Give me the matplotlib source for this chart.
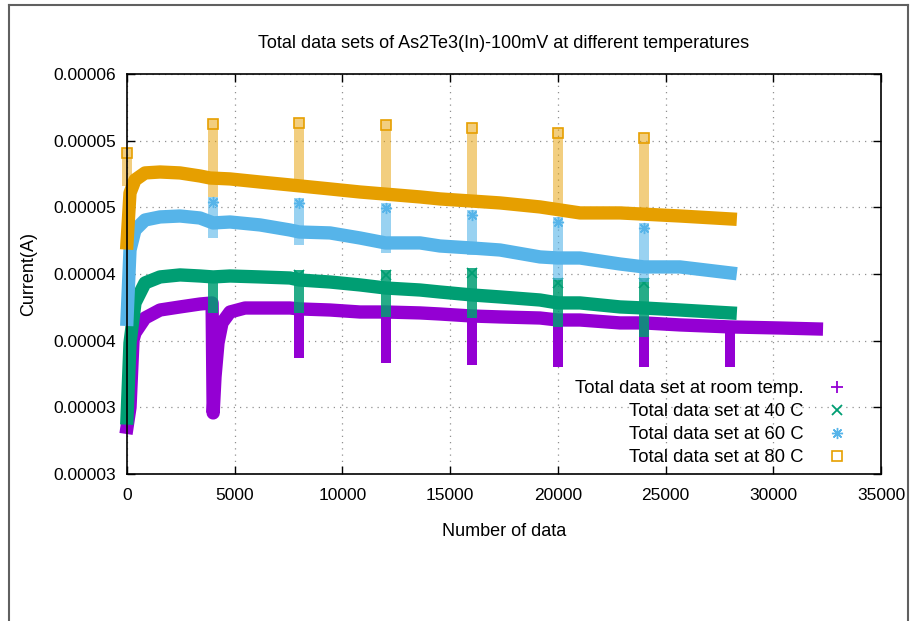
import matplotlib.pyplot as plt
import numpy as np
from matplotlib.lines import Line2D

plt.rcParams['font.family'] = ['Liberation Sans', 'DejaVu Sans']

# data index and current (units of 1e-5 A), read along the centre of each band
n_room = [0, 140, 280, 370, 836, 1532, 2460, 3389, 3950, 4000, 4085, 4224, 4410, 4781, 5478,
          6174, 7566, 8000, 9423, 10816, 12000, 13601, 14529, 16000, 17315, 19171, 20000,
          21028, 22885, 24000, 25670, 28000, 30312, 32000]
i_room = [2.85, 3.00, 3.505, 3.558, 3.67, 3.73, 3.753, 3.775, 3.783, 2.958, 3.228, 3.483, 3.633,
          3.715, 3.745, 3.745, 3.745, 3.738, 3.73, 3.715, 3.715, 3.708, 3.70, 3.685, 3.678, 3.67,
          3.655, 3.655, 3.633, 3.633, 3.618, 3.603, 3.595, 3.588]

n_40 = [0, 139, 371, 836, 1532, 2460, 3389, 4000, 4781, 6174, 7566, 8000, 9423, 10816, 12000,
        13601, 14529, 16000, 17315, 19171, 20000, 21028, 22885, 24000, 25670, 28000]
i_40 = [2.92, 3.483, 3.783, 3.933, 3.978, 3.993, 3.985, 3.978, 3.985, 3.978, 3.97, 3.955, 3.94,
        3.918, 3.895, 3.88, 3.865, 3.843, 3.828, 3.805, 3.783, 3.783, 3.753, 3.745, 3.73, 3.708]

n_60 = [0, 139, 371, 836, 1532, 2460, 3389, 4000, 4781, 6174, 7566, 8000, 9423, 10816, 12000,
        13601, 14529, 16000, 17315, 19171, 20000, 21028, 22885, 24000, 25670, 28000]
i_60 = [3.66, 4.18, 4.33, 4.405, 4.428, 4.435, 4.42, 4.383, 4.39, 4.368, 4.33, 4.315, 4.308,
        4.27, 4.233, 4.233, 4.21, 4.195, 4.18, 4.128, 4.12, 4.12, 4.075, 4.053, 4.053, 4.008]

n_80 = [0, 139, 371, 836, 1532, 2460, 3389, 3853, 4781, 6174, 7566, 9423, 10816, 13601, 14529,
        17315, 19171, 21028, 22885, 25670, 28000]
i_80 = [4.233, 4.608, 4.705, 4.758, 4.765, 4.758, 4.735, 4.72, 4.713, 4.69, 4.668, 4.638, 4.615,
        4.578, 4.563, 4.533, 4.503, 4.458, 4.458, 4.435, 4.413]

# spikes at the start of each 4000-point run (low / high ends)
spk_room_n = [8000, 12000, 16000, 20000, 24000, 28000]
spk_room_lo = [3.408, 3.37, 3.355, 3.34, 3.34, 3.34]
spk_room_hi = [3.738, 3.715, 3.685, 3.655, 3.633, 3.603]

spk_40_n = [4000, 8000, 12000, 16000, 20000, 24000]
spk_40_lo = [3.745, 3.745, 3.715, 3.708, 3.64, 3.565]
spk_40_hi = [3.978, 3.993, 3.993, 4.008, 3.933, 3.933]

spk_60_n = [4000, 8000, 12000, 16000, 20000, 24000]
spk_60_lo = [4.308, 4.255, 4.195, 4.18, 3.993, 3.978]
spk_60_hi = [4.54, 4.533, 4.495, 4.443, 4.39, 4.345]

spk_80_n = [0, 4000, 8000, 12000, 16000, 20000, 24000]
spk_80_lo = [4.70, 4.615, 4.66, 4.60, 4.55, 4.49, 4.45]
spk_80_hi = [4.91, 5.125, 5.13, 5.12, 5.095, 5.06, 5.02]

labels = ["Total data set at room temp.", "Total data set at 40 C",
          "Total data set at 60 C", "Total data set at 80 C"]
colors = ["#9400d3", "#009e73", "#56b4e9", "#e69f00"]
yticks = [2.5, 3.0, 3.5, 4.0, 4.5, 5.0, 5.5]
ytick_labels = ["0.00003", "0.00003", "0.00004", "0.00004", "0.00005", "0.00005", "0.00006"]
xticks = [0, 5000, 10000, 15000, 20000, 25000, 30000, 35000]

fig = plt.figure(figsize=(9.1, 6.21), dpi=100)
ax = fig.add_axes([127/910, 1-474/621, 754/910, 400/621])

series = [(n_room, i_room), (n_40, i_40), (n_60, i_60), (n_80, i_80)]
spikes = [(spk_room_n, spk_room_lo, spk_room_hi, 1.0),
          (spk_40_n, spk_40_lo, spk_40_hi, 0.85),
          (spk_60_n, spk_60_lo, spk_60_hi, 0.6),
          (spk_80_n, spk_80_lo, spk_80_hi, 0.5)]

for k in range(4):
    n, cur = series[k]
    sn, lo, hi, a = spikes[k]
    c = colors[k]
    ax.plot(n, np.array(cur)*1e-5, color=c, lw=9.6, solid_capstyle='projecting',
            solid_joinstyle='round', clip_on=False, zorder=2+k)
    ax.vlines(sn, np.array(lo)*1e-5, np.array(hi)*1e-5, colors=c, linewidth=7.2,
              alpha=a, capstyle='projecting', zorder=2+k, clip_on=False)

# top markers of the light spikes
ax.plot(spk_40_n[1:], np.array(spk_40_hi[1:])*1e-5, ls='none', marker='x', ms=7, mew=1.2,
        color=colors[1], zorder=3, clip_on=False)
ax.plot(spk_60_n, np.array(spk_60_hi)*1e-5, ls='none', marker=(8, 2, 0), ms=8, mew=1,
        color=colors[2], zorder=4, clip_on=False)
ax.plot(spk_80_n, np.array(spk_80_hi)*1e-5, ls='none', marker='s', ms=7, mew=1.2,
        mfc='none', mec=colors[3], zorder=5, clip_on=False)

ax.set_xlim(0, 35000)
ax.set_ylim(2.5e-5, 5.5e-5)
ax.set_xticks(xticks)
ax.set_yticks(np.array(yticks)*1e-5)
ax.set_yticklabels(ytick_labels)
ax.grid(True, linestyle=(0, (1, 4)), color='#909090', lw=0.9)
ax.set_axisbelow(True)
ax.tick_params(direction='in', length=6, width=1, top=True, right=True, labelsize=12.5)
ax.tick_params(axis='x', pad=10)
ax.tick_params(axis='y', pad=8)
for s in ax.spines.values():
    s.set_linewidth(1.2)
    s.set_zorder(10)

ax.set_title("Total data sets of As2Te3(In)-100mV at different temperatures", fontsize=13, pad=19)
ax.set_xlabel("Number of data", fontsize=13, va='center')
ax.set_ylabel("Current(A)", fontsize=13, va='center')
ax.xaxis.set_label_coords(0.5, -0.145)
ax.yaxis.set_label_coords(-0.131, 0.5)

handles = [Line2D([], [], ls='none', marker='+', ms=8, mew=1.3, color=colors[0]),
           Line2D([], [], ls='none', marker='x', ms=7, mew=1.3, color=colors[1]),
           Line2D([], [], ls='none', marker=(8, 2, 0), ms=8, mew=1, color=colors[2]),
           Line2D([], [], ls='none', marker='s', ms=7, mew=1.2, mfc='none', mec=colors[3])]
ax.legend(handles, labels, loc='lower right', bbox_to_anchor=(0.9615, 0.02), frameon=False,
          markerfirst=False, fontsize=13.3, handlelength=1.6, handletextpad=1.0,
          labelspacing=0.32, borderpad=0, borderaxespad=0)

# outer frame of the screenshot
fr = dict(color='#606060', lw=1.5, transform=fig.transFigure)
fig.add_artist(Line2D([9/910, 9/910], [0, 1-5/621], **fr))
fig.add_artist(Line2D([9/910, 908/910], [1-5/621, 1-5/621], **fr))
fig.add_artist(Line2D([908/910, 908/910], [0, 1-5/621], **fr))

fig.savefig("out.png", dpi=100)
